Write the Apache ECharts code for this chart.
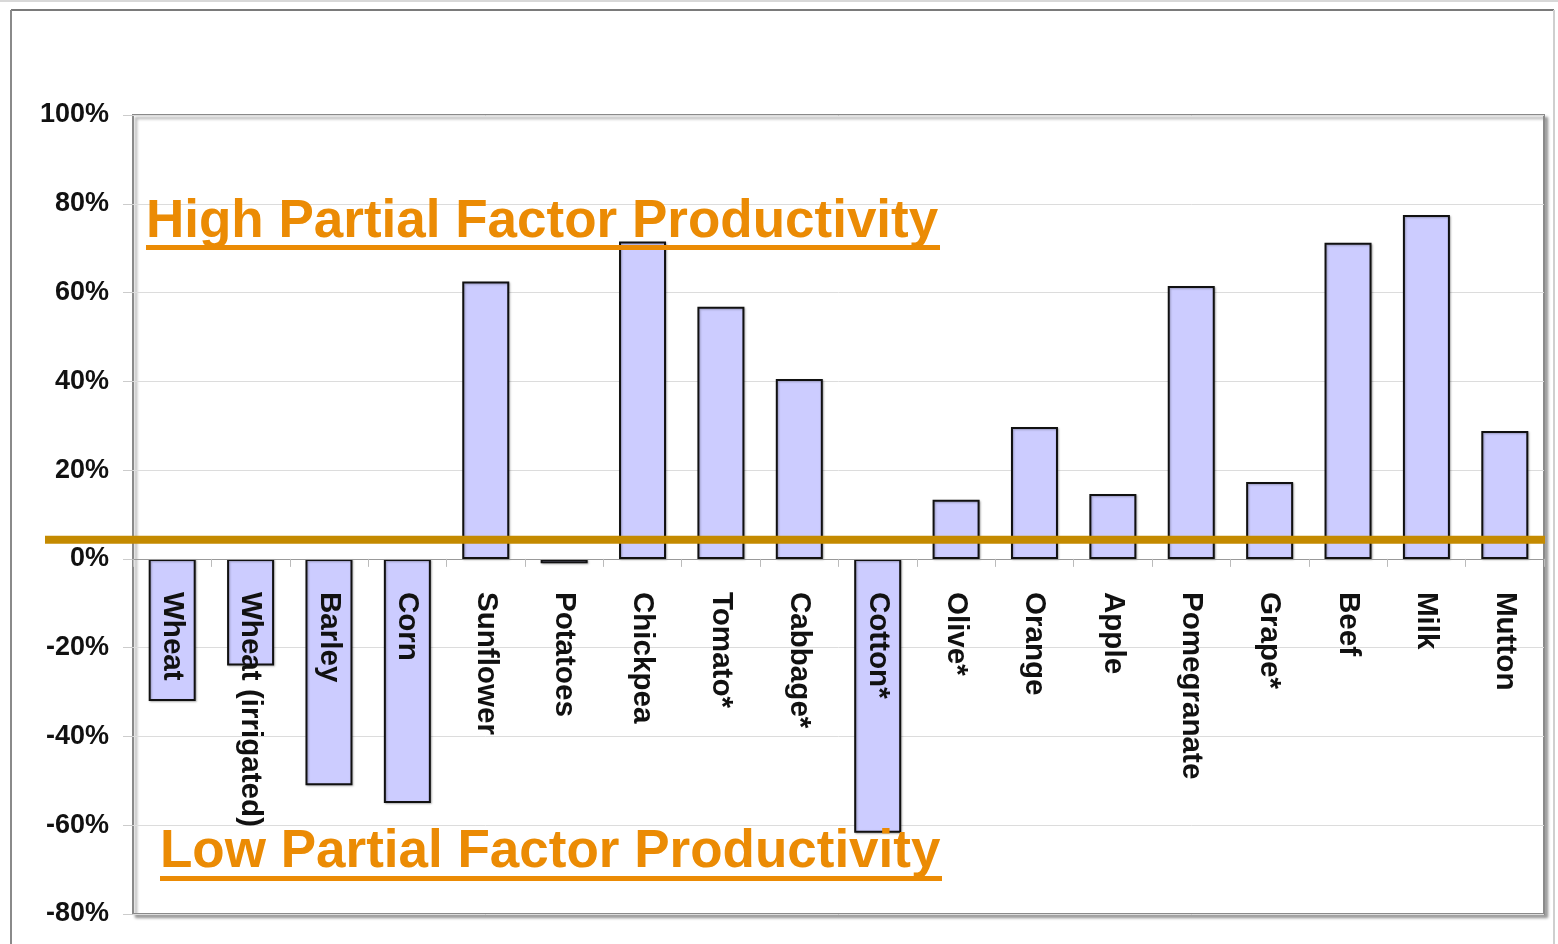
<!DOCTYPE html>
<html>
<head>
<meta charset="utf-8">
<script src="https://cdn.jsdelivr.net/npm/echarts@6/dist/echarts.min.js"></script>
<style>
html,body{margin:0;padding:0;background:#fff;}
#chart{width:1558px;height:944px;}
</style>
</head>
<body>
<div id="chart"></div>
<script>
const categories = ['Wheat','Wheat (irrigated)','Barley','Corn','Sunflower','Potatoes','Chickpea','Tomato*','Cabbage*','Cotton*','Olive*','Orange','Apple','Pomegranate','Grape*','Beef','Milk','Mutton'];
const values = [-32, -24, -51, -55, 62.5, -1, 71.5, 56.8, 40.5, -61.7, 13.3, 29.7, 14.6, 61.5, 17.3, 71.2, 77.5, 28.8];
const yTicks = { min: -80, max: 100, interval: 20 };
const thresholdValue = 4.3;
const highLabel = 'High Partial Factor Productivity';
const lowLabel = 'Low Partial Factor Productivity';

const FONT = '"Liberation Sans", Arial, Helvetica, sans-serif';
const chart = echarts.init(document.getElementById('chart'));
const GRID_BOTTOM = 30;
const CHART_H = 944;

chart.setOption({
  animation: false,
  backgroundColor: '#fff',
  grid: {
    left: 133, right: 14, top: 115, bottom: GRID_BOTTOM,
    containLabel: false, outerBoundsMode: 'none',
    show: true, borderColor: '#8a8a8a', borderWidth: 2,
    backgroundColor: '#fff',
    shadowColor: 'rgba(0,0,0,0.35)', shadowBlur: 3, shadowOffsetX: 3, shadowOffsetY: 3
  },
  xAxis: {
    type: 'category',
    data: categories,
    z: 5,
    axisLine: { onZero: false, lineStyle: { color: '#999', width: 1 } },
    axisTick: { show: true, alignWithLabel: false, length: 8, lineStyle: { color: '#bbb' } },
    axisLabel: { rotate: -90, margin: 33, color: '#111', fontFamily: FONT, fontWeight: 'bold', fontSize: 29.6, interval: 0, hideOverlap: false },
    splitLine: { show: false }
  },
  yAxis: {
    type: 'value',
    min: yTicks.min, max: yTicks.max, interval: yTicks.interval,
    axisLine: { show: false },
    axisTick: { show: true, length: 10, lineStyle: { color: '#ccc' } },
    axisLabel: { formatter: '{value}%', color: '#111', fontFamily: FONT, fontWeight: 'bold', fontSize: 27, margin: 24 },
    splitLine: { lineStyle: { color: '#dcdcdc', width: 1 } }
  },
  series: [{
    type: 'bar',
    data: values,
    barWidth: 47,
    itemStyle: { color: '#CCCCFF', borderColor: '#111', borderWidth: 2,
      shadowColor: 'rgba(0,0,0,0.25)', shadowBlur: 2, shadowOffsetX: 1, shadowOffsetY: 1 }
  }]
});

const yZero = chart.convertToPixel({ yAxisIndex: 0 }, 0);
const yLine = chart.convertToPixel({ yAxisIndex: 0 }, thresholdValue);
const gridBottomY = CHART_H - GRID_BOTTOM;

chart.setOption({
  xAxis: { offset: yZero - gridBottomY },
  graphic: [
    { type: 'line', z: 50, shape: { x1: 0, y1: 1, x2: 1558, y2: 1 }, style: { stroke: '#d8d8d8', lineWidth: 2 } },
    { type: 'line', z: 50, shape: { x1: 11, y1: 10, x2: 1554, y2: 10 }, style: { stroke: '#7a7a7a', lineWidth: 2 } },
    { type: 'line', z: 50, shape: { x1: 11, y1: 10, x2: 11, y2: 944 }, style: { stroke: '#8a8a8a', lineWidth: 2 } },
    { type: 'line', z: 50, shape: { x1: 1554, y1: 10, x2: 1554, y2: 944 }, style: { stroke: '#cfcfcf', lineWidth: 2 } },
    { type: 'rect', z: 100, shape: { x: 45, y: yLine - 4, width: 1500, height: 8 }, style: { fill: '#C48A00' } },
    { type: 'text', z: 100, left: 146, top: 196, style: { text: highLabel, fill: '#EB8B04', font: 'bold 53px ' + FONT } },
    { type: 'rect', z: 100, shape: { x: 146, y: 245, width: 794, height: 5 }, style: { fill: '#EB8B04' } },
    { type: 'text', z: 100, left: 160, top: 826, style: { text: lowLabel, fill: '#EB8B04', font: 'bold 53px ' + FONT } },
    { type: 'rect', z: 100, shape: { x: 160, y: 876, width: 782, height: 5 }, style: { fill: '#EB8B04' } }
  ]
});
</script>
</body>
</html>
